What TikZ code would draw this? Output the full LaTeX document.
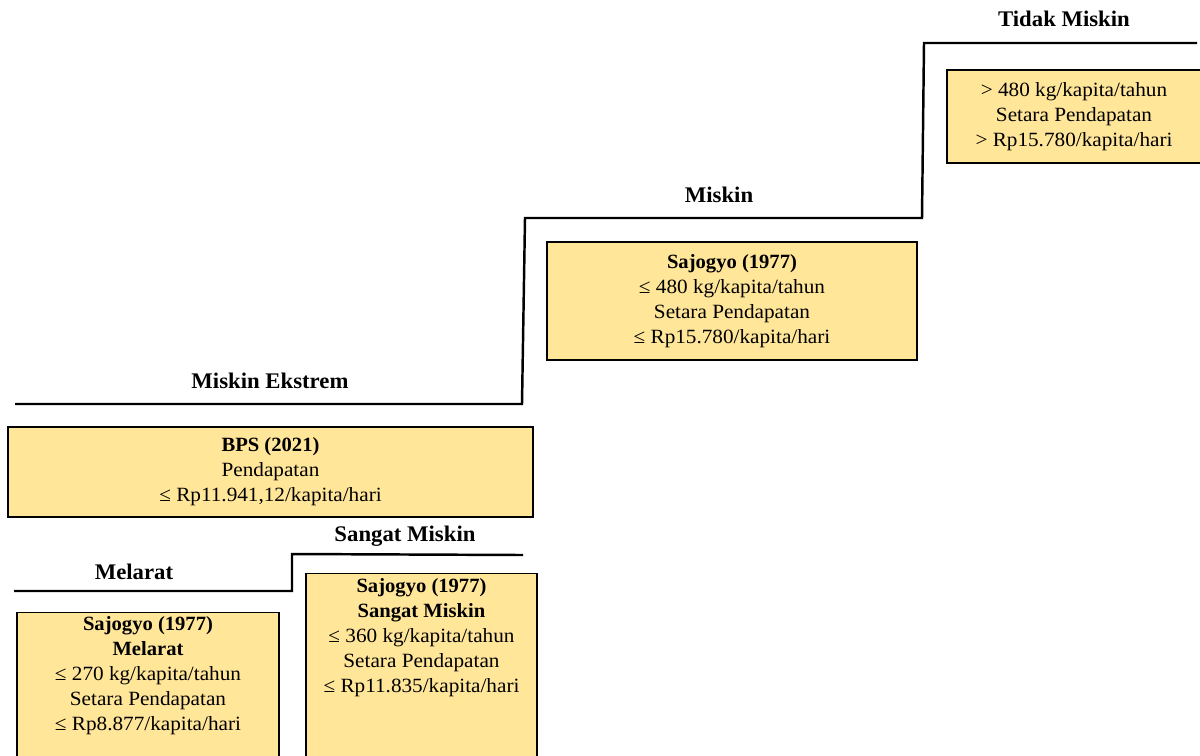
\documentclass[tikz,border=0pt]{standalone}
\usepackage{fontspec}
\setmainfont{Liberation Serif}[FakeStretch=1.05, BoldFeatures={FakeStretch=1.02}]
\definecolor{kuning}{HTML}{FFE699}
\begin{document}
\begin{tikzpicture}[x=0.02cm, y=-0.02cm,
  tangga/.style={line width=1.4pt, black, line join=miter},
  kotak/.style={draw=black, fill=kuning, line width=0.6pt, inner sep=0pt, align=center, font=\fontsize{11.5}{14.2}\selectfont},
  isi/.style={align=center, inner sep=0pt, font=\fontsize{11.5}{14.2}\selectfont},
  judul/.style={font=\fontsize{12.7}{14}\selectfont\bfseries}]
\useasboundingbox (0,0) rectangle (1200,755);
% Tangga garis kemiskinan
\draw[tangga] (14,591) -- (292,591) -- (292,554) -- (523,555);
\draw[tangga] (15,404) -- (522,404) -- (525,218) -- (922,218) -- (924,43) -- (1197,43);
% Judul tiap tingkat
\node[judul] (tidakmiskin) at (1064,19) {Tidak Miskin};
\node[judul] (miskin) at (719,195) {Miskin};
\node[judul] (ekstrem) at (270,381) {Miskin Ekstrem};
\node[judul] (sangatmiskin) at (405,536) {Sangat Miskin};
\node[judul] (melarat) at (134,572) {Melarat};
% Kotak kriteria
\node[kotak, minimum width=254*0.02cm, minimum height=93*0.02cm] (kTidak) at (1074,116.5)
  {> 480 kg/kapita/tahun\\ Setara Pendapatan\\ > Rp15.780/kapita/hari};
\node[kotak, minimum width=370*0.02cm, minimum height=118*0.02cm] (kMiskin) at (732,301)
  {\textbf{Sajogyo (1977)}\\ ≤ 480 kg/kapita/tahun\\ Setara Pendapatan\\ ≤ Rp15.780/kapita/hari};
\node[kotak, minimum width=525*0.02cm, minimum height=90*0.02cm] (kBPS) at (270.5,472)
  {\textbf{BPS (2021)}\\ Pendapatan\\ ≤ Rp11.941,12/kapita/hari};
% Kotak bawah (terpotong)
\node[kotak, anchor=north, minimum width=262*0.02cm, minimum height=190*0.02cm] (kMelarat) at (148,612) {};
\node[isi, anchor=north] (tMelarat) at ([yshift=-0.09cm]kMelarat.north)
  {\textbf{Sajogyo (1977)}\\ \textbf{Melarat}\\ ≤ 270 kg/kapita/tahun\\ Setara Pendapatan\\ ≤ Rp8.877/kapita/hari};
\node[kotak, anchor=north, minimum width=231*0.02cm, minimum height=230*0.02cm] (kSangat) at (421.5,573) {};
\node[isi, anchor=north] (tSangat) at ([yshift=-0.11cm]kSangat.north)
  {\textbf{Sajogyo (1977)}\\ \textbf{Sangat Miskin}\\ ≤ 360 kg/kapita/tahun\\ Setara Pendapatan\\ ≤ Rp11.835/kapita/hari};
\end{tikzpicture}
\end{document}
